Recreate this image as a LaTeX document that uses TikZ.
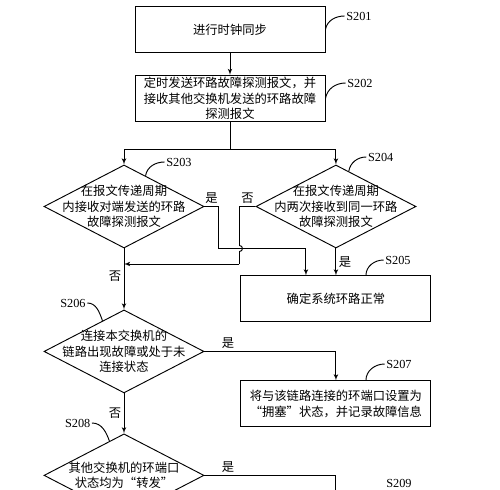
\documentclass[tikz,border=0pt]{standalone}
\usepackage{fontspec}
\setmainfont{Liberation Serif}
\newfontfamily\cjk{Noto Sans CJK SC}
\usetikzlibrary{arrows,shapes.geometric,positioning}

\begin{document}
\begin{tikzpicture}[->,>=latex',line width=0.8pt,node distance=0.66cm,font=\cjk\fontsize{10.5}{13}\selectfont]
	\tikzstyle{process}=[draw,rectangle,minimum width=5.7cm,minimum height=1.38cm,align=center,inner sep=0pt]
	\tikzstyle{decision}=[draw,diamond,minimum width=4.8cm,minimum height=2.49cm,inner sep=0pt]
	\tikzstyle{inside}=[align=center,inner sep=0pt]
	\tikzstyle{tag}=[font=\rmfamily\fontsize{10.5}{12}\selectfont,inner sep=1pt]
	\tikzstyle{answer}=[inner sep=2pt]

  \useasboundingbox (0,0) rectangle (15,-14.7);
  \clip (0,0) rectangle (15,-14.7);

  \node[process]  (A) at (6.9,-0.885)   {进行时钟同步};
  \node[process]  (B) [below=of A]      {定时发送环路故障探测报文，并\\接收其他交换机发送的环路故障\\探测报文};
  \node[decision] (C) at (3.72,-6.195)  {};
  \node[decision] (D) [right=1.53cm of C] {};
  \node[process]  (E) [below=0.81cm of D] {确定系统环路正常};
  \node[decision] (F) [below=1.83cm of C] {};
  \node[process]  (G) [below=1.74cm of E] {将与该链路连接的环端口设置为\\“拥塞”状态，并记录故障信息};
  \node[decision] (H) [below=1.2cm of F]  {};
  \coordinate[below=2.6cm of G] (I);

  \node[inside] (Ct) at (C) {在报文传递周期\\内接收对端发送的环路\\故障探测报文};
  \node[inside] (Dt) at (D) {在报文传递周期\\内两次接收到同一环路\\故障探测报文};
  \node[inside] (Ft) at (F) {连接本交换机的\\链路出现故障或处于未\\连接状态};
  \node[inside] (Ht) at (H) {其他交换机的环端口\\状态均为“转发”};

  % step numbers
  \node[tag] (a) at (10.77,-0.48)  {S201};
  \node[tag] (b) at (10.8,-2.49)   {S202};
  \node[tag] (c) at (5.37,-4.86)   {S203};
  \node[tag] (d) at (11.42,-4.71)  {S204};
  \node[tag] (e) at (11.94,-7.8)   {S205};
  \node[tag] (f) at (2.19,-9.09)   {S206};
  \node[tag] (g) at (11.97,-10.92) {S207};
  \node[tag] (h) at (2.33,-12.69)  {S208};
  \node[tag] (i) at (11.97,-14.49) {S209};

  \draw[-] (A.east) to[out=80,in=180] (a.west);
  \draw[-] (B.east) to[out=80,in=180] (b.west);
  \draw[-] (C.55) to[out=80,in=180] (c.west);
  \draw[-] (D.70) to[out=80,in=180] (d.west);
  \draw[-] ([xshift=0.9cm]E.north) to[out=90,in=180] (e.west);
  \draw[-] (f.east) to[out=0,in=110] (F.125);
  \draw[-] ([xshift=0.9cm]G.north) to[out=90,in=180] (g.west);
  \draw[-] (h.east) to[out=0,in=110] (H.113);

  % flow
  \draw (A) -- (B);
  \draw[-] (B.south) -- ++(0,-0.84) coordinate (fork);
  \draw (fork) -| (C.north);
  \draw (fork) -| (D.north);
  \draw (C.east) -- node[answer,above] (y1) {是} ++(0.42,0) -- ++(0,-1.26) -| ([xshift=-0.9cm]E.north);
  \draw[-] (D.west) -- node[answer,above] (n1) {否} ++(-0.48,0) -- ++(0,-1.17)
        arc[start angle=90,end angle=-90,radius=0.09] -- ++(0,-0.375) coordinate (back);
  \draw (back) -- (back -| C.south);
  \draw (D) -- node[answer,right] (y2) {是} (E);
  \draw (C) -- node[answer,left,pos=0.45] (n2) {否} (F);
  \draw (F.east) -| node[answer,above,pos=0.09] (y3) {是} (G.north);
  \draw (F) -- node[answer,left] (n3) {否} (H);
  \draw (H.east) -| node[answer,above,pos=0.09] (y4) {是} (I);

\end{tikzpicture}
\end{document}
